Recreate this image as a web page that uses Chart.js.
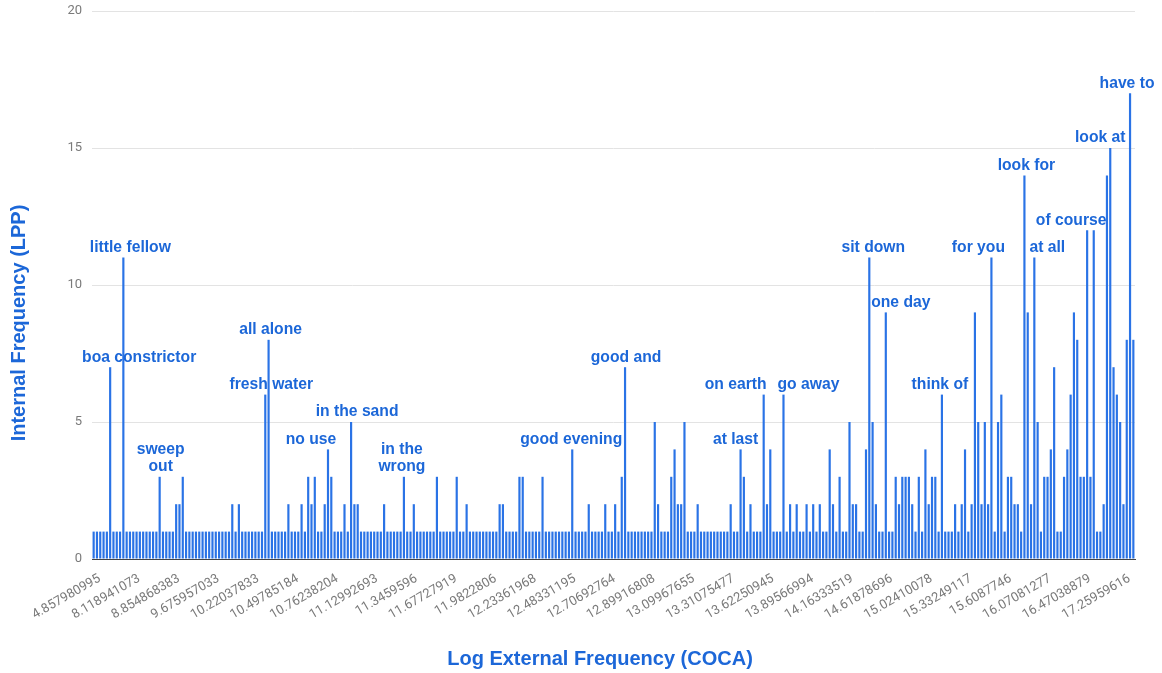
<!DOCTYPE html>
<html>
<head>
<meta charset="utf-8">
<script src="https://cdn.jsdelivr.net/npm/chart.js@4.4.1/dist/chart.umd.min.js"></script>
<style>
  html, body { margin: 0; padding: 0; background: #fff; }
  #wrap { width: 1162px; height: 673px; }
</style>
</head>
<body>
<div id="wrap"><canvas id="myChart" width="1162" height="673"></canvas></div>
<script>
// every 12th category carries a visible tick label
const tickLabels = [
  "4.857980995", "8.118941073", "8.854868383", "9.675957033", "10.22037833",
  "10.49785184", "10.76238204", "11.12992693", "11.3459596", "11.67727919",
  "11.9822806", "12.23361968", "12.48331195", "12.70692764", "12.89916808",
  "13.09967655", "13.31075477", "13.62250945", "13.89566994", "14.16333519",
  "14.61878696", "15.02410078", "15.33249117", "15.6087746", "16.07081277",
  "16.47038879", "17.25959616",
];
const tickEvery = 12;

// Internal Frequency (LPP), one value per phrase, sorted by external frequency
const values = [
  1, 1, 1, 1, 1, 7, 1, 1, 1, 11,
  1, 1, 1, 1, 1, 1, 1, 1, 1, 1,
  3, 1, 1, 1, 1, 2, 2, 3, 1, 1,
  1, 1, 1, 1, 1, 1, 1, 1, 1, 1,
  1, 1, 2, 1, 2, 1, 1, 1, 1, 1,
  1, 1, 6, 8, 1, 1, 1, 1, 1, 2,
  1, 1, 1, 2, 1, 3, 2, 3, 1, 1,
  2, 4, 3, 1, 1, 1, 2, 1, 5, 2,
  2, 1, 1, 1, 1, 1, 1, 1, 2, 1,
  1, 1, 1, 1, 3, 1, 1, 2, 1, 1,
  1, 1, 1, 1, 3, 1, 1, 1, 1, 1,
  3, 1, 1, 2, 1, 1, 1, 1, 1, 1,
  1, 1, 1, 2, 2, 1, 1, 1, 1, 3,
  3, 1, 1, 1, 1, 1, 3, 1, 1, 1,
  1, 1, 1, 1, 1, 4, 1, 1, 1, 1,
  2, 1, 1, 1, 1, 2, 1, 1, 2, 1,
  3, 7, 1, 1, 1, 1, 1, 1, 1, 1,
  5, 2, 1, 1, 1, 3, 4, 2, 2, 5,
  1, 1, 1, 2, 1, 1, 1, 1, 1, 1,
  1, 1, 1, 2, 1, 1, 4, 3, 1, 2,
  1, 1, 1, 6, 2, 4, 1, 1, 1, 6,
  1, 2, 1, 2, 1, 1, 2, 1, 2, 1,
  2, 1, 1, 4, 2, 1, 3, 1, 1, 5,
  2, 2, 1, 1, 4, 11, 5, 2, 1, 1,
  9, 1, 1, 3, 2, 3, 3, 3, 2, 1,
  3, 1, 4, 2, 3, 3, 1, 6, 1, 1,
  1, 2, 1, 2, 4, 1, 2, 9, 5, 2,
  5, 2, 11, 1, 5, 6, 1, 3, 3, 2,
  2, 1, 14, 9, 2, 11, 5, 1, 3, 3,
  4, 7, 1, 1, 3, 4, 6, 9, 8, 3,
  3, 12, 3, 12, 1, 1, 2, 14, 15, 7,
  6, 5, 2, 8, 17, 8,
];

// annotated phrases: bar index and text
const phraseIndex = [5, 9, 20, 52, 53, 71, 78, 94, 145, 161, 196, 203, 209, 235, 240, 257, 272, 282, 285, 301, 308, 314];
const phraseText = [
  "boa constrictor", "little fellow", "sweep\nout", "fresh water", "all alone",
  "no use", "in the sand", "in the\nwrong", "good evening", "good and",
  "at last", "on earth", "go away", "sit down", "one day", "think of",
  "for you", "look for", "at all", "of course", "look at", "have to",
];
// horizontal nudge of each annotation, like the original layout
const phraseShift = [29, 7, 1, 6, 2, -17, 6, -2, -1, 1, -5, -28, 25, 4, 15, -2, -13, 2, 13, -16, -10, -3];

const blue = "#1c67d8";
const barBlue = "#2a73e6";
const grey = "#7a7a7a";

const categories = values.map((v, i) => (i % tickEvery === 0 ? tickLabels[i / tickEvery] : ""));

const phraseLabels = {
  id: "phraseLabels",
  afterDatasetsDraw(chart) {
    const c = chart.ctx;
    const bars = chart.getDatasetMeta(0).data;
    c.save();
    c.font = "bold 15.7px 'Liberation Sans', Arial, sans-serif";
    c.fillStyle = blue;
    c.textAlign = "center";
    c.textBaseline = "middle";
    phraseIndex.forEach((idx, i) => {
      const bar = bars[idx];
      const lines = phraseText[i].split("\n");
      const x = bar.x + phraseShift[i];
      lines.forEach((line, j) => {
        c.fillText(line, x, bar.y - 10 - (lines.length - 1 - j) * 17);
      });
    });
    c.restore();
  },
};

const axisTitles = {
  id: "axisTitles",
  afterDraw(chart) {
    const c = chart.ctx;
    c.save();
    c.font = "bold 20px 'Liberation Sans', Arial, sans-serif";
    c.fillStyle = blue;
    c.textAlign = "center";
    c.textBaseline = "middle";
    c.fillText("Log External Frequency (COCA)", 600, 659);
    c.translate(19, 323);
    c.rotate(-Math.PI / 2);
    c.fillText("Internal Frequency (LPP)", 0, 0);
    c.restore();
  },
};

const ctx = document.getElementById("myChart");

const data = {
  labels: categories,
  datasets: [
    {
      label: "Internal Frequency (LPP)",
      backgroundColor: barBlue,
      borderWidth: 0,
      barPercentage: 0.66,
      categoryPercentage: 1.0,
      data: values,
    },
  ],
};

const config = {
  type: "bar",
  data,
  options: {
    responsive: false,
    animation: false,
    layout: { padding: { top: 11, right: 27, left: 0, bottom: 0 } },
    plugins: {
      legend: { display: false },
      tooltip: { enabled: false },
    },
    scales: {
      x: {
        grid: { display: false },
        border: { display: true, color: "#444", width: 1 },
        ticks: {
          autoSkip: false,
          minRotation: 30,
          maxRotation: 30,
          color: grey,
          font: { family: "Roboto", size: 13 },
          padding: 4,
          labelOffset: 6,
          callback: (value, i) => (i % tickEvery === 0 ? tickLabels[i / tickEvery] : null),
        },
        afterFit: (scale) => {
          scale.height = 114;
          scale.paddingTop = 0;
          scale.paddingBottom = 0;
        },
      },
      y: {
        min: 0,
        max: 20,
        ticks: {
          stepSize: 5,
          color: grey,
          font: { family: "Roboto", size: 13 },
          padding: 10,
        },
        grid: {
          color: (c) => (c.tick.value === 0 ? "#444" : "#e3e3e3"),
          drawTicks: false,
        },
        border: { display: false },
        afterFit: (scale) => {
          scale.width = 92;
          scale.paddingTop = 0;
          scale.paddingBottom = 0;
        },
      },
    },
  },
  plugins: [phraseLabels, axisTitles],
};

let myChart = new Chart(ctx, config);
</script>
</body>
</html>
